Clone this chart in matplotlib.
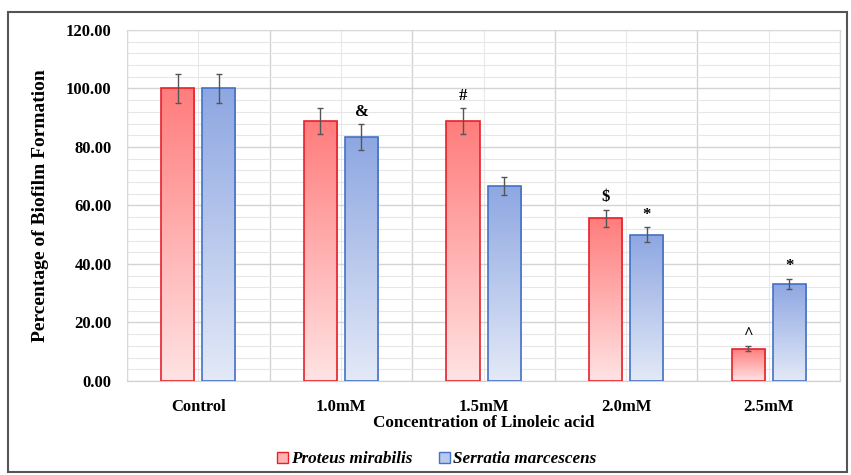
import matplotlib.pyplot as plt
from matplotlib.patches import Rectangle, Patch
from matplotlib.colors import LinearSegmentedColormap
from matplotlib.ticker import MultipleLocator
import numpy as np

plt.rcParams['font.family'] = ['Liberation Serif', 'DejaVu Serif']
plt.rcParams['font.weight'] = 'bold'

# --- DATA ---
categories = ['Control', '1.0mM', '1.5mM', '2.0mM', '2.5mM']
proteus = [100.0, 88.8, 88.8, 55.6, 11.1]
proteus_err = [5.0, 4.4, 4.5, 3.0, 0.7]
serratia = [100.0, 83.3, 66.7, 50.0, 33.3]
serratia_err = [5.0, 4.5, 3.0, 2.5, 1.7]
marks_proteus = ['', '', '#', '$', '^']
marks_serratia = ['', '&', '', '*', '*']

fig = plt.figure(figsize=(8.51, 4.75), dpi=100)
ax = fig.add_axes([0.1492, 0.1979, 0.838, 0.739])

x = np.arange(len(categories))
w = 0.232
off = 0.144

red_cmap = LinearSegmentedColormap.from_list('r', ['#FFE3E3', '#FF7C7C'])
blue_cmap = LinearSegmentedColormap.from_list('b', ['#E3E9F7', '#8EA7E2'])
grad = np.linspace(0, 1, 256).reshape(-1, 1)


def gradient_bars(xs, vals, cmap, edge):
    for xi, v in zip(xs, vals):
        rect = Rectangle((xi - w / 2, 0), w, v, facecolor='none',
                         edgecolor=edge, linewidth=1.2, zorder=3)
        ax.add_patch(rect)
        im = ax.imshow(grad, cmap=cmap, aspect='auto', origin='lower',
                       extent=(xi - w / 2, xi + w / 2, 0, v), zorder=2)
        im.set_clip_path(rect)


gradient_bars(x - off, proteus, red_cmap, '#E8202A')
gradient_bars(x + off, serratia, blue_cmap, '#4472C4')

ax.errorbar(x - off, proteus, yerr=proteus_err, fmt='none', ecolor='#555555',
            elinewidth=1, capsize=2.5, capthick=1, zorder=4)
ax.errorbar(x + off, serratia, yerr=serratia_err, fmt='none', ecolor='#555555',
            elinewidth=1, capsize=2.5, capthick=1, zorder=4)

for xi, v, e, m in zip(x - off, proteus, proteus_err, marks_proteus):
    if m:
        ax.text(xi, v + e + 1.5, m, ha='center', va='bottom', fontsize=12,
                fontweight='bold')
for xi, v, e, m in zip(x + off, serratia, serratia_err, marks_serratia):
    if m:
        ax.text(xi, v + e + 1.5, m, ha='center', va='bottom', fontsize=12,
                fontweight='bold')

ax.set_xlim(-0.5, len(categories) - 0.5)
ax.set_ylim(0, 120)
ax.set_xticks(x)
ax.set_xticklabels(categories)
ax.yaxis.set_major_locator(MultipleLocator(20))
ax.yaxis.set_minor_locator(MultipleLocator(4))
ax.yaxis.set_major_formatter(lambda v, p: f'{v:.2f}')
ax.set_xticks(np.arange(-0.5, len(categories), 1), minor=True)

ax.grid(which='major', axis='y', color='#D4D4D4', linewidth=1, zorder=0)
ax.grid(which='minor', axis='y', color='#E6E6E6', linewidth=0.8, zorder=0)
ax.grid(which='major', axis='x', color='#E8E8E8', linewidth=0.8, zorder=0)
ax.grid(which='minor', axis='x', color='#D4D4D4', linewidth=1, zorder=0)
ax.set_axisbelow(True)

for s in ['top', 'right', 'left']:
    ax.spines[s].set_color('#D9D9D9')
ax.spines['bottom'].set_color('#D0D0D0')
ax.tick_params(which='both', length=0)
ax.tick_params(axis='y', labelsize=12, pad=11)
ax.tick_params(axis='x', labelsize=12, pad=13)
for lbl in ax.get_xticklabels() + ax.get_yticklabels():
    lbl.set_fontweight('bold')

ax.set_xlabel('Concentration of Linoleic acid', fontsize=12.3, fontweight='bold',
              labelpad=0)
ax.set_ylabel('Percentage of Biofilm Formation', fontsize=14, fontweight='bold',
              labelpad=12)

handles = [Patch(facecolor='#FFB3B3', edgecolor='#E8202A', label='Proteus mirabilis'),
           Patch(facecolor='#B9C8EE', edgecolor='#4472C4', label='Serratia marcescens')]
fig.legend(handles=handles, loc='center', bbox_to_anchor=(0.513, 0.033), ncol=2,
           frameon=False, prop={'style': 'italic', 'weight': 'bold', 'size': 12.3},
           handlelength=0.65, handleheight=0.65, handletextpad=0.15,
           columnspacing=1.6)

# outer frame
fig.add_artist(Rectangle((8 / 851, 3 / 475), 839 / 851, 460 / 475,
                         transform=fig.transFigure, fill=False,
                         edgecolor='#555555', linewidth=1.5))

fig.savefig('out.png', dpi=100)
